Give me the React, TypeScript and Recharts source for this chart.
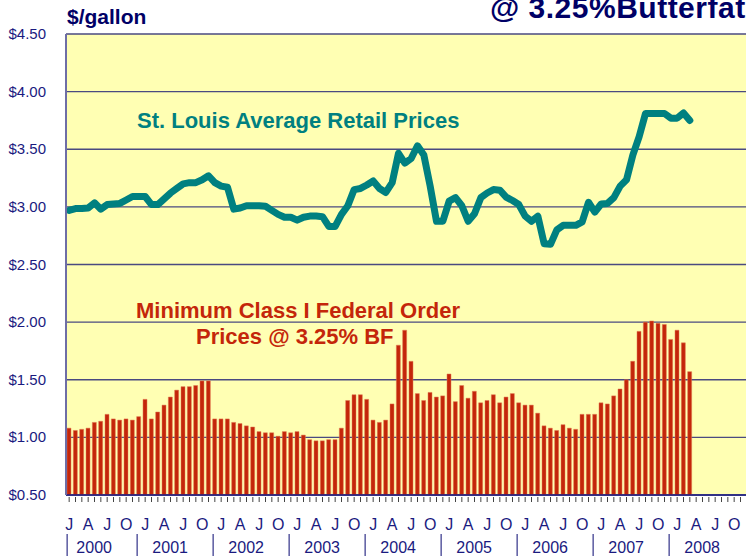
import { ComposedChart, Bar, Line, XAxis, YAxis, CartesianGrid } from 'recharts';

const years = ['2000', '2001', '2002', '2003', '2004', '2005', '2006', '2007', '2008'];
const monthLetters = ['J', 'F', 'M', 'A', 'M', 'J', 'J', 'A', 'S', 'O', 'N', 'D'];
const yTicks = [0.5, 1, 1.5, 2, 2.5, 3, 3.5, 4, 4.5];

// Minimum Class I Federal Order price, Jan 2000 - Mar 2008
const classIPrices = [
  1.08, 1.06, 1.07, 1.08, 1.13, 1.14, 1.2, 1.16, 1.15, 1.16, 1.15, 1.18,
  1.33, 1.16, 1.22, 1.28, 1.35, 1.41, 1.44, 1.44, 1.45, 1.49, 1.49, 1.16,
  1.16, 1.16, 1.13, 1.12, 1.1, 1.09, 1.05, 1.04, 1.04, 1.01, 1.05, 1.04,
  1.05, 1.02, 0.98, 0.97, 0.97, 0.98, 0.98, 1.08, 1.32, 1.37, 1.37, 1.33,
  1.15, 1.13, 1.15, 1.29, 1.8, 1.93, 1.66, 1.38, 1.32, 1.39, 1.35, 1.36,
  1.55, 1.31, 1.45, 1.34, 1.4, 1.3, 1.32, 1.37, 1.3, 1.35, 1.38, 1.3,
  1.28, 1.28, 1.21, 1.1, 1.08, 1.06, 1.11, 1.08, 1.07, 1.2, 1.2, 1.2,
  1.3, 1.29, 1.36, 1.42, 1.5, 1.66, 1.92, 2.0, 2.01, 1.99, 1.98, 1.85,
  1.93, 1.82, 1.57,
];

// St. Louis average retail price, Jan 2000 - Mar 2008
const retailPrices = [
  2.97, 2.985, 2.985, 2.99, 3.035, 2.98, 3.02, 3.025, 3.03, 3.06, 3.09, 3.09,
  3.09, 3.02, 3.02, 3.07, 3.12, 3.16, 3.2, 3.21, 3.21, 3.235, 3.27, 3.21,
  3.18, 3.17, 2.98, 2.99, 3.01, 3.01, 3.01, 3.005, 2.97, 2.935, 2.91, 2.91,
  2.885, 2.91, 2.92, 2.92, 2.915, 2.83, 2.83, 2.935, 3.01, 3.15, 3.16, 3.19,
  3.225, 3.16, 3.125, 3.21, 3.465, 3.38, 3.42, 3.53, 3.45, 3.18, 2.875, 2.875,
  3.05, 3.08, 3.01, 2.875, 2.94, 3.08, 3.12, 3.15, 3.145, 3.085, 3.055, 3.02,
  2.92, 2.875, 2.92, 2.68, 2.675, 2.8, 2.84, 2.84, 2.84, 2.87, 3.04, 2.955,
  3.025, 3.03, 3.08, 3.18, 3.235, 3.45, 3.61, 3.81, 3.81, 3.81, 3.81, 3.77,
  3.77, 3.815, 3.75,
];

const data = years.flatMap((yr, yi) =>
  monthLetters.map((m, mi) => {
    const i = yi * 12 + mi;
    return {
      key: `${yr}-${mi}`,
      year: yr,
      month: m,
      mi,
      yi,
      classI: classIPrices[i] ?? null,
      retail: retailPrices[i] ?? null,
    };
  })
);

const NAVY = '#1a1a80';
const TEAL = '#008080';
const RED = '#c4260a';
const FONT = '"Liberation Sans", Arial, sans-serif';
const AXIS_Y = 495;

const MonthTick = (props: any) => {
  const { x, payload } = props;
  const d = data.find((r) => r.key === payload.value);
  if (!d) return null;
  return (
    <g>
      <line x1={x} x2={x} y1={AXIS_Y + 2} y2={AXIS_Y + 7} stroke="#444" strokeWidth={1} />
      {d.mi % 3 === 0 && (
        <text x={x} y={AXIS_Y + 35} textAnchor="middle" fontSize={16} fill={NAVY} fontFamily={FONT}>
          {d.month}
        </text>
      )}
      {d.mi === 0 && (
        <>
          <line
            x1={d.yi === 0 ? x - 2 : x - 8}
            x2={d.yi === 0 ? x - 2 : x - 8}
            y1={AXIS_Y + 39}
            y2={556}
            stroke="#5a5aa0"
            strokeWidth={1.5}
          />
          <text x={x + 25} y={AXIS_Y + 58} textAnchor="middle" fontSize={16} fill={NAVY} fontFamily={FONT}>
            {d.year}
          </text>
        </>
      )}
    </g>
  );
};

const PriceTick = (props: any) => {
  const { y, payload } = props;
  return (
    <text x={46} y={y + 5} textAnchor="end" fontSize={15} fill={NAVY} fontFamily={FONT}>
      {`$${Number(payload.value).toFixed(2)}`}
    </text>
  );
};

export default function App() {
  return (
    <div
      style={{
        position: 'absolute',
        left: 0,
        top: 0,
        width: 746,
        height: 556,
        overflow: 'hidden',
        background: '#fff',
        fontFamily: FONT,
      }}
    >
      <ComposedChart
        width={750}
        height={556}
        data={data}
        margin={{ top: 34, right: 0, bottom: 0, left: 0 }}
        barSize={4}
      >
        <CartesianGrid vertical={false} stroke="#4a4a80" strokeWidth={1.3} fill="#ffffb3" />
        <XAxis
          dataKey="key"
          type="category"
          interval={0}
          height={61}
          tickLine={false}
          tickSize={0}
          axisLine={{ stroke: NAVY, strokeWidth: 1.5 }}
          tick={<MonthTick />}
        />
        <YAxis
          width={66}
          domain={[0.5, 4.5]}
          ticks={yTicks}
          tickLine={false}
          axisLine={{ stroke: '#6e6ea6', strokeWidth: 2 }}
          tick={<PriceTick />}
        />
        <Bar dataKey="classI" fill={RED} stroke="#e07a55" strokeWidth={0.5} isAnimationActive={false} />
        <Line
          dataKey="retail"
          stroke={TEAL}
          strokeWidth={7}
          strokeLinejoin="round"
          strokeLinecap="round"
          dot={false}
          connectNulls={false}
          type="linear"
          isAnimationActive={false}
        />
      </ComposedChart>

      <div style={{ position: 'absolute', left: 67, top: 5, fontSize: 21, fontWeight: 'bold', color: '#000066' }}>
        $/gallon
      </div>
      <div
        style={{
          position: 'absolute',
          left: 490,
          top: -9,
          fontSize: 30,
          fontWeight: 'bold',
          color: '#000066',
          whiteSpace: 'nowrap',
          letterSpacing: 0.5,
        }}
      >
        @ 3.25%Butterfat
      </div>
      <div
        style={{
          position: 'absolute',
          left: 137,
          top: 108,
          fontSize: 22,
          fontWeight: 'bold',
          color: TEAL,
          whiteSpace: 'nowrap',
        }}
      >
        St. Louis Average Retail Prices
      </div>
      <div
        style={{
          position: 'absolute',
          left: 136,
          top: 298,
          fontSize: 22,
          fontWeight: 'bold',
          color: RED,
          whiteSpace: 'nowrap',
        }}
      >
        Minimum Class I Federal Order
      </div>
      <div
        style={{
          position: 'absolute',
          left: 196,
          top: 324,
          fontSize: 22,
          fontWeight: 'bold',
          color: RED,
          whiteSpace: 'nowrap',
        }}
      >
        Prices @ 3.25% BF
      </div>
    </div>
  );
}
